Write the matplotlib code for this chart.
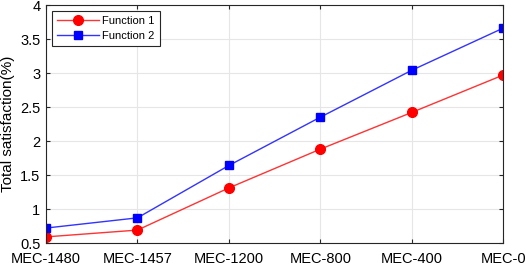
import matplotlib
matplotlib.use("Agg")
import matplotlib.pyplot as plt

categories = ["MEC-1480", "MEC-1457", "MEC-1200", "MEC-800", "MEC-400", "MEC-0"]
function1 = [0.59, 0.69, 1.31, 1.88, 2.42, 2.97]
function2 = [0.72, 0.87, 1.64, 2.35, 3.04, 3.66]
yticks = [0.5, 1, 1.5, 2, 2.5, 3, 3.5, 4]

plt.rcParams["font.family"] = ["Liberation Sans", "DejaVu Sans"]

fig = plt.figure(figsize=(5.26, 2.65), dpi=100)
ax = fig.add_axes([0.0875, 0.083, 0.869, 0.898])

x = list(range(len(categories)))
ax.plot(x, function1, color="#ff3333", lw=1, marker="o", ms=7,
        mfc="red", mec="red", label="Function 1")
ax.plot(x, function2, color="#3333ff", lw=1, marker="s", ms=6,
        mfc="blue", mec="blue", label="Function 2")

ax.set_xlim(0, len(categories) - 1)
ax.set_ylim(0.5, 4)
ax.set_xticks(x)
ax.set_xticklabels(categories, fontsize=10.5)
ax.set_yticks(yticks)
ax.set_yticklabels([f"{t:g}" for t in yticks], fontsize=10.5)
ax.set_ylabel("Total satisfaction(%)", fontsize=11, labelpad=4)

ax.grid(True, color="#e6e6e6", lw=0.8)
ax.set_axisbelow(True)
ax.tick_params(direction="in", top=True, right=True, length=3,
               color="#262626")
ax.tick_params(axis="x", pad=6.5)
ax.tick_params(axis="y", pad=4)
for s in ax.spines.values():
    s.set_color("#262626")
    s.set_linewidth(0.8)

leg = ax.legend(loc="upper left", fontsize=8, fancybox=False,
                edgecolor="#262626", framealpha=1, handlelength=3.8,
                borderaxespad=0.5, labelspacing=0.45, borderpad=0.45,
                handletextpad=0.3)
leg.get_frame().set_linewidth(0.8)

fig.savefig("out.png", dpi=100)
